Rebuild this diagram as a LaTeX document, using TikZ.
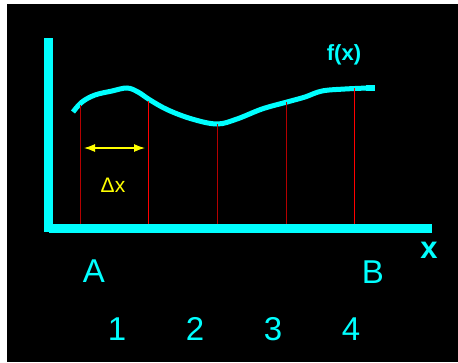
\documentclass[tikz,border=0pt]{standalone}
\usepackage{fontspec}
\setmainfont{Liberation Sans}
\usetikzlibrary{arrows.meta}
\definecolor{aqua}{RGB}{0,255,255}
\definecolor{lemon}{RGB}{255,255,0}
\definecolor{darkred}{RGB}{180,0,0}
\begin{document}
\begin{tikzpicture}[x=1pt,y=-1pt,line cap=butt,
  lbl/.style={text=aqua,inner sep=0pt,font=\fontsize{33}{33}\selectfont},
  ordinate/.style={line width=1pt}]
 \useasboundingbox (0,0) rectangle (458,362);
 \fill[white] (0,0) rectangle (458,362);
 \fill[black] (7,4) rectangle (458,362);
 % axes
 \fill[aqua] (44,38) rectangle (53,232);
 \fill[aqua] (49,224) rectangle (432,233);
 % curve
 \draw[aqua,line width=5pt,line cap=butt] plot[smooth,tension=.6] coordinates
  {(73,112) (82,102) (95,95) (112,91) (127,88) (138,92) (150,100) (168,110)
   (192,119) (217,124) (237,119) (262,109) (287,102) (305,97) (322,91) (345,89) (368,88)};
 \fill[aqua] (366,85) rectangle (375,91);
 \foreach \xx/\yy/\cc in {80/105/darkred,148/101/red,217/124/darkred,286/102/darkred,354/88/red}
  \draw[ordinate,\cc] (\xx,\yy) -- (\xx,224);
 \coordinate (dl) at (84,148);
 \coordinate (dr) at (145,148);
 \draw[lemon,line width=1.2pt,{Latex[length=11pt,width=8pt]}-{Latex[length=11pt,width=8pt]}] (dl) -- (dr);
 \node[text=lemon,font=\fontsize{21}{21}\selectfont] (dx) at (113,185) {Δx};
 \node[lbl,font=\fontsize{22}{22}\selectfont\bfseries] (fx) at (344,55) {f(x)};
 \node[lbl,font=\fontsize{31}{31}\selectfont\bfseries] (xl) at (429,250) {x};
 \node[lbl] (A) at (94,271) {A};
 \node[lbl] (B) at (373,272) {B};
 \foreach \xx/\nn in {117/1,195/2,273/3,351/4}
  \node[lbl] (n\nn) at (\xx,329) {\nn};
\end{tikzpicture}
\end{document}
